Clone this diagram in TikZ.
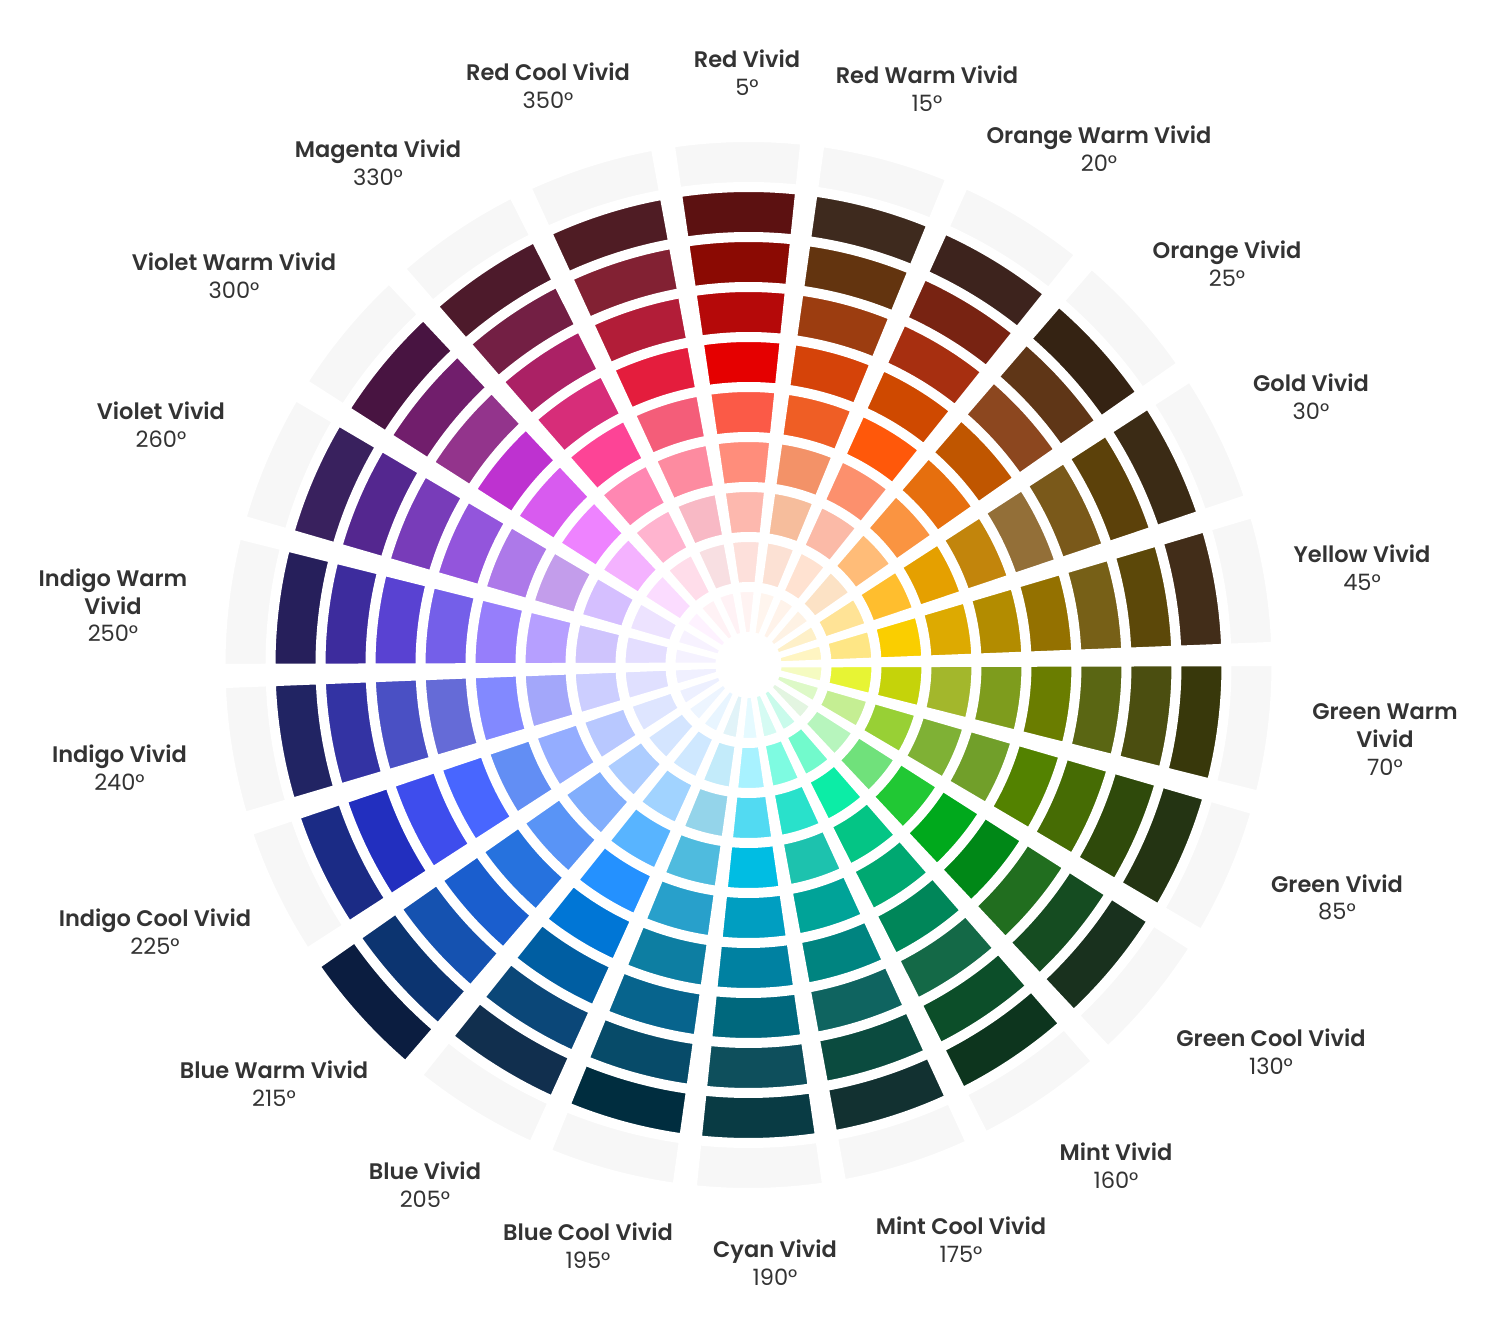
\documentclass[tikz,border=0pt]{standalone}
\usepackage{fontspec}
\setmainfont{Poppins}[BoldFont={Poppins SemiBold}]
\definecolor{txtgray}{HTML}{333333}
\tikzset{
  seg/.style={draw=white, line width=2.5pt, line join=miter},
  lbl/.style={align=center, text=txtgray, font=\fontsize{11.25}{13.8}\selectfont}
}
% 各色相的色阶（由内向外 5v ... 90）
\def\famRedVivid{FFF3F2,FDE0DB,FDB8AE,FF8D7B,FB5A47,E50000,B50909,8B0A03,5C1111,F7F7F7}
\def\famRedWarm{FFF5EE,FCE1D4,F6BD9C,F39268,EF5E25,D54309,9C3D10,63340F,3E2A1E,F7F7F7}
\def\famOrangeWarm{FFF3EA,FFE2D1,FBBAA7,FC906D,FF580A,CF4900,A72F10,782312,3D231D,F7F7F7}
\def\famOrange{FEF2E4,FCE2C5,FFBC78,FA9441,E66F0E,C05600,8C471F,5F3617,352313,F7F7F7}
\def\famGold{FEF0C8,FFE396,FFBE2E,E5A000,C2850C,936F38,7A591A,5C410A,3B2B15,F7F7F7}
\def\famYellow{FFF5C2,FEE685,FACE00,DDAA01,B38C00,947100,776017,5C4809,422D19,F7F7F7}
\def\famGreenWarm{F5FBC1,E7F434,C5D30A,A3B72C,7E9C1D,6A7D00,5A6613,4B4E10,38380B,F7F7F7}
\def\famGreen{DDF9C7,C5EE93,98D035,7FB135,719F2A,538200,466C04,2F4A0B,243413,F7F7F7}
\def\famGreenCool{E3F5E1,B7F5BD,70E17B,21C834,00A91C,008817,216E1F,154C21,19311E,F7F7F7}
\def\famMint{C9FBEB,72FACC,0CEDA6,04C585,00A871,008659,146947,0C4E29,0D351E,F7F7F7}
\def\famMintCool{D5FBF3,7EFBE1,29E1CB,1DC2AE,00A398,008480,0F6460,0B4B3F,123131,F7F7F7}
\def\famCyan{E5FAFF,A8F2FF,52DAF2,00BDE3,009EC1,0081A1,00687D,0E4F5C,093B44,F7F7F7}
\def\famBlueCool{E1F3F8,C3EBFA,94D4EA,4FBBDE,28A0CB,0D7EA2,07648D,074B69,002D3F,F7F7F7}
\def\famBlue{E8F5FF,CFE8FF,A1D3FF,58B4FF,2491FF,0076D6,005EA2,0B4778,112F4E,F7F7F7}
\def\famBlueWarm{EDF5FF,D4E5FF,ADCDFF,81AEFC,5994F6,2672DE,1A5ECE,1552B0,0C3470,0B1D40}
\def\famIndigoCool{EDF0FF,DEE5FF,B8C8FF,94ADFF,628EF4,4866FF,3E4DED,222FBF,1B2B85,F7F7F7}
\def\famIndigo{F0F0FF,E0E0FF,CCCEFF,A3A7FA,8289FF,656BD7,4A50C4,3333A3,212463,F7F7F7}
\def\famIndigoWarm{F5F2FF,E4DEFF,CFC4FD,B69FFF,967EFB,745FE9,5942D2,3D2C9D,261F5B,F7F7F7}
\def\famViolet{F7F2FF,EDE3FF,D5BFFF,C39DEB,AD79E9,9355DC,783CB9,54278F,39215E,F7F7F7}
\def\famVioletWarm{FEF2FF,FBDCFF,F4B2FF,EE83FF,D85BEF,BE32D0,93348C,711E6C,481441,F7F7F7}
\def\famMagenta{FFF2F5,FFDDEA,FFB4CF,FF87B2,FD4496,D72D79,AB2165,731F44,4D1A2B,F7F7F7}
\def\famRedCool{FFF2F5,F8DFE2,F8B9C5,FD8BA0,F45D79,E41D3D,B21D38,822133,4F1C24,F7F7F7}
\begin{document}
\begin{tikzpicture}[x=0.5pt, y=0.5pt] % 1 单位 = 1 像素
    % 画布范围
    \useasboundingbox (-748.5,-666) rectangle (749.5,665);

    % === 22 个扇区，每个扇区 10 个色阶 ===
    % Red Vivid 中心在 91.2 度，顺时针每隔 360/22 度
    \foreach \fam [count=\i from 0] in {\famRedVivid,\famRedWarm,\famOrangeWarm,\famOrange,
        \famGold,\famYellow,\famGreenWarm,\famGreen,\famGreenCool,\famMint,\famMintCool,
        \famCyan,\famBlueCool,\famBlue,\famBlueWarm,\famIndigoCool,\famIndigo,
        \famIndigoWarm,\famViolet,\famVioletWarm,\famMagenta,\famRedCool}{
        \pgfmathsetmacro{\aL}{91.2-360/22*\i-7.13}
        \pgfmathsetmacro{\aR}{91.2-360/22*\i+7.13}
        \edef\famlist{\fam}
        \foreach \hex [count=\k] in \famlist {
            \pgfmathsetmacro{\rin}{30.5+50*(\k-1)}
            \pgfmathsetmacro{\rout}{\rin+45}
            \edef\setsegcolor{\noexpand\definecolor{segfill}{HTML}{\hex}}
            \setsegcolor
            \filldraw[seg, fill=segfill] (\aL:\rin) arc[start angle=\aL, end angle=\aR, radius=\rin]
                -- (\aR:\rout) arc[start angle=\aR, end angle=\aL, radius=\rout] -- cycle;
        }
    }

    % === 标注色相名称与角度 ===
    \node[lbl] (lblRedVivid)     at (-1.5,592.5)    {\textbf{Red Vivid}\\5°};
    \node[lbl] (lblRedWarm)      at (178.5,576.5)   {\textbf{Red Warm Vivid}\\15°};
    \node[lbl] (lblOrangeWarm)   at (350.5,516.5)   {\textbf{Orange Warm Vivid}\\20°};
    \node[lbl] (lblOrange)       at (478.5,401.5)   {\textbf{Orange Vivid}\\25°};
    \node[lbl] (lblGold)         at (562.5,268.5)   {\textbf{Gold Vivid}\\30°};
    \node[lbl] (lblYellow)       at (613.5,97.5)    {\textbf{Yellow Vivid}\\45°};
    \node[lbl] (lblGreenWarm)    at (636.5,-74.5)   {\textbf{Green Warm}\\\textbf{Vivid}\\70°};
    \node[lbl] (lblGreen)        at (588.5,-232.5)  {\textbf{Green Vivid}\\85°};
    \node[lbl] (lblGreenCool)    at (522.5,-386.5)  {\textbf{Green Cool Vivid}\\130°};
    \node[lbl] (lblMint)         at (367.5,-500.5)  {\textbf{Mint Vivid}\\160°};
    \node[lbl] (lblMintCool)     at (212.5,-574.5)  {\textbf{Mint Cool Vivid}\\175°};
    \node[lbl] (lblCyan)         at (26.5,-597.5)   {\textbf{Cyan Vivid}\\190°};
    \node[lbl] (lblBlueCool)     at (-160.5,-580.5) {\textbf{Blue Cool Vivid}\\195°};
    \node[lbl] (lblBlue)         at (-323.5,-519.5) {\textbf{Blue Vivid}\\205°};
    \node[lbl] (lblBlueWarm)     at (-474.5,-418.5) {\textbf{Blue Warm Vivid}\\215°};
    \node[lbl] (lblIndigoCool)   at (-593.5,-266.5) {\textbf{Indigo Cool Vivid}\\225°};
    \node[lbl] (lblIndigo)       at (-629,-102.5)   {\textbf{Indigo Vivid}\\240°};
    \node[lbl] (lblIndigoWarm)   at (-635.5,59.5)   {\textbf{Indigo Warm}\\\textbf{Vivid}\\250°};
    \node[lbl] (lblViolet)       at (-587.5,240.5)  {\textbf{Violet Vivid}\\260°};
    \node[lbl] (lblVioletWarm)   at (-514.5,389.5)  {\textbf{Violet Warm Vivid}\\300°};
    \node[lbl] (lblMagenta)      at (-370.5,502.5)  {\textbf{Magenta Vivid}\\330°};
    \node[lbl] (lblRedCool)      at (-200.5,579)    {\textbf{Red Cool Vivid}\\350°};
\end{tikzpicture}
\end{document}
